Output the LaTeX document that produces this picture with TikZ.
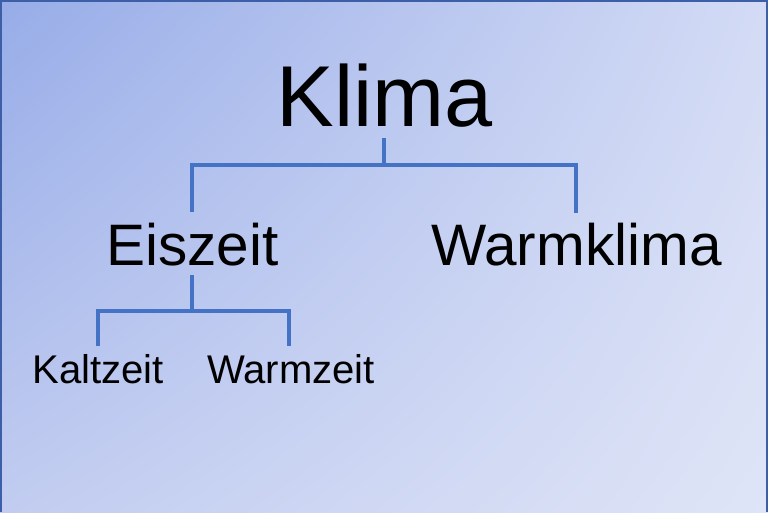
\documentclass[tikz,border=0pt]{standalone}
\usepackage{fontspec}
\setmainfont{Liberation Sans}
\usetikzlibrary{shadings}
\definecolor{bgA}{HTML}{97ACE8}
\definecolor{bgB}{HTML}{D3DBF5}
\definecolor{bgC}{HTML}{C1CCF0}
\definecolor{bgD}{HTML}{DFE5F7}
\definecolor{conncol}{HTML}{4472C4}
\definecolor{framecol}{HTML}{3D5FA8}
\tikzset{
  conn/.style={draw=conncol, line width=2.2pt},
  lbl/.style={inner sep=0pt, anchor=base west, text=black},
}
\begin{document}
\begin{tikzpicture}[x=0.02cm,y=0.02cm]
\useasboundingbox (0,0) rectangle (768,512);
\shade[upper left=bgA, upper right=bgB, lower left=bgC, lower right=bgD] (0,0) rectangle (768,512);
\draw[framecol, line width=1.5pt] (0.5,0) -- (0.5,511.5) -- (767.5,511.5) -- (767.5,0);
\node[lbl, font=\fontsize{49.2}{56}\selectfont] (klima) at (276,386) {Klima};
\node[lbl, font=\fontsize{33.3}{38}\selectfont] (eis) at (106,247) {Eiszeit};
\node[lbl, font=\fontsize{33.3}{38}\selectfont] (warmk) at (431,247) {Warmklima};
\node[lbl, font=\fontsize{22.8}{26}\selectfont] (kalt) at (32,129) {Kaltzeit};
\node[lbl, font=\fontsize{22.8}{26}\selectfont] (warmz) at (207,129) {Warmzeit};
\coordinate (kTop) at (384,374);
\coordinate (kMid) at (384,347);
\coordinate (eTop) at (192,300);
\coordinate (wTop) at (576,299);
\coordinate (eBot) at (192,237);
\coordinate (eMid) at (192,201);
\coordinate (kaTop) at (98,166);
\coordinate (waTop) at (289,166);
\draw[conn] (kTop) -- (kMid);
\draw[conn] (eTop) |- (kMid) -| (wTop);
\draw[conn] (eBot) -- (eMid);
\draw[conn] (kaTop) |- (eMid) -| (waTop);
\end{tikzpicture}
\end{document}
